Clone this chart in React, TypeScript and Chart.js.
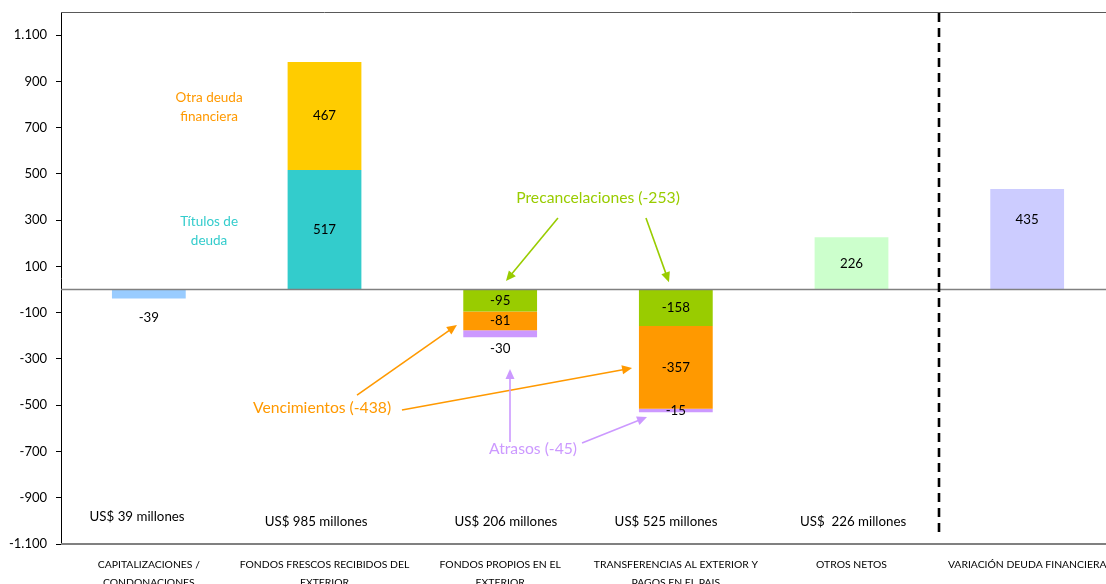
import React, { useEffect, useRef } from "react";
import { Chart, registerables } from "chart.js";
Chart.register(...registerables);

const FONT = "Lato, 'Open Sans', sans-serif";

const CATEGORIES: (string | string[])[] = [
  ["CAPITALIZACIONES /", "CONDONACIONES"],
  ["FONDOS FRESCOS RECIBIDOS DEL", "EXTERIOR"],
  ["FONDOS PROPIOS EN EL", "EXTERIOR"],
  ["TRANSFERENCIAS AL EXTERIOR Y", "PAGOS EN EL PAIS"],
  "OTROS NETOS",
  "VARIACIÓN DEUDA FINANCIERA",
];

const SINGLE_BARS = [-39, null, null, null, 226, 435];
const TITULOS = [null, 517, null, null, null, null];
const OTRA_DEUDA = [null, 467, null, null, null, null];
const PRECANCELACIONES = [null, null, -95, -158, null, null];
const VENCIMIENTOS = [null, null, -81, -357, null, null];
const ATRASOS = [null, null, -30, -15, null, null];

const Y_TICKS = [1100, 900, 700, 500, 300, 100, -100, -300, -500, -700, -900, -1100];

const TOTAL_LABELS = [
  "US$ 39 millones",
  "US$ 985 millones",
  "US$ 206 millones",
  "US$ 525 millones",
  "US$  226 millones",
];

const ORANGE = "#FF9900";
const GREEN = "#99CC00";
const PURPLE = "#CC99FF";
const TEAL = "#33CCCC";
const YELLOW = "#FFCC00";

const SINGLE_COLORS = ["#99CCFF", "#fff", "#fff", "#fff", "#CCFFCC", "#CCCCFF"];

// annotation placements (category index, value)
const TOTAL_POS: [number, number][] = [
  [-0.067, -983],
  [0.952, -1005],
  [2.033, -1005],
  [2.944, -1005],
  [4.009, -1005],
];

const NOTES = [
  { lines: ["Otra deuda", "financiera"], x: 0.343, y: 790, color: ORANGE, size: 13.5 },
  { lines: ["Títulos de", "deuda"], x: 0.343, y: 251, color: TEAL, size: 13.5 },
  { lines: ["Precancelaciones (-253)"], x: 2.557, y: 395, color: GREEN, size: 15.7 },
  { lines: ["Vencimientos (-438)"], x: 0.986, y: -512, color: ORANGE, size: 15.7 },
  { lines: ["Atrasos (-45)"], x: 2.187, y: -689, color: PURPLE, size: 15.7 },
];

const ARROWS = [
  { from: [2.329, 309], to: [2.033, 37], color: GREEN },
  { from: [2.83, 309], to: [2.961, 32], color: GREEN },
  { from: [1.185, -456], to: [1.754, -153], color: ORANGE },
  { from: [1.441, -521], to: [2.751, -339], color: ORANGE },
  { from: [2.056, -659], to: [2.056, -343], color: PURPLE },
  { from: [2.466, -663], to: [2.836, -551], color: PURPLE },
];

function fmt(v: number) {
  const s = Math.abs(v).toString().replace(/\B(?=(\d{3})+(?!\d))/g, ".");
  return (v < 0 ? "-" : "") + s;
}

const overlayPlugin = {
  id: "overlay",
  afterDatasetsDraw(chart: any) {
    const { ctx, chartArea, scales } = chart;
    const xs = scales.x;
    const ys = scales.y;
    const X = (i: number) => xs.getPixelForValue(i);
    const Y = (v: number) => ys.getPixelForValue(v);
    ctx.save();

    // zero line
    ctx.strokeStyle = "#808080";
    ctx.lineWidth = 1.6;
    ctx.beginPath();
    ctx.moveTo(chartArea.left, Y(0));
    ctx.lineTo(chartArea.right, Y(0));
    ctx.stroke();

    // frame top & bottom
    ctx.strokeStyle = "#595959";
    ctx.lineWidth = 1;
    ctx.beginPath();
    ctx.moveTo(chartArea.left, chartArea.top + 0.5);
    ctx.lineTo(chartArea.right, chartArea.top + 0.5);
    ctx.stroke();
    ctx.strokeStyle = "#808080";
    ctx.lineWidth = 2;
    ctx.beginPath();
    ctx.moveTo(chartArea.left, chartArea.bottom);
    ctx.lineTo(chartArea.right, chartArea.bottom);
    ctx.stroke();

    // dashed separator
    ctx.strokeStyle = "#000";
    ctx.lineWidth = 2.6;
    ctx.setLineDash([9, 6]);
    ctx.beginPath();
    const dx = Math.round(X(4.5));
    ctx.moveTo(dx, chartArea.top + 1);
    ctx.lineTo(dx, chartArea.bottom - 7);
    ctx.stroke();
    ctx.setLineDash([]);

    // value labels
    ctx.fillStyle = "#000";
    ctx.font = `13.3px ${FONT}`;
    ctx.textAlign = "center";
    ctx.textBaseline = "middle";
    chart.data.datasets.forEach((ds: any, di: number) => {
      const meta = chart.getDatasetMeta(di);
      ds.data.forEach((v: number | null, i: number) => {
        if (v === null || v === undefined) return;
        const el = meta.data[i];
        const top = Math.min(el.y, el.base);
        const bot = Math.max(el.y, el.base);
        let cy = (top + bot) / 2;
        if (di === 0 && i === 0) cy = bot + 19;
        else if (di === 5 && i === 2) cy = bot + 11.5;
        else if (di === 0 && i === 5) cy = top + (bot - top) * 0.31;
        ctx.fillText(fmt(v), el.x, cy);
      });
    });

    // totals at bottom
    ctx.font = `13.3px ${FONT}`;
    TOTAL_LABELS.forEach((t, i) => {
      ctx.fillText(t, X(TOTAL_POS[i][0]), Y(TOTAL_POS[i][1]));
    });

    // notes
    NOTES.forEach((n) => {
      ctx.fillStyle = n.color;
      ctx.font = `${n.size}px ${FONT}`;
      const lh = 19;
      const cx = X(n.x);
      const cy = Y(n.y);
      n.lines.forEach((l, k) => {
        ctx.fillText(l, cx, cy + (k - (n.lines.length - 1) / 2) * lh);
      });
    });

    // arrows
    ARROWS.forEach((a) => {
      const x1 = X(a.from[0]);
      const y1 = Y(a.from[1]);
      const x2 = X(a.to[0]);
      const y2 = Y(a.to[1]);
      const ang = Math.atan2(y2 - y1, x2 - x1);
      const hl = 10;
      const hw = 4.5;
      ctx.strokeStyle = a.color;
      ctx.fillStyle = a.color;
      ctx.lineWidth = 1.6;
      ctx.beginPath();
      ctx.moveTo(x1, y1);
      ctx.lineTo(x2 - Math.cos(ang) * hl * 0.8, y2 - Math.sin(ang) * hl * 0.8);
      ctx.stroke();
      ctx.beginPath();
      ctx.moveTo(x2, y2);
      ctx.lineTo(
        x2 - Math.cos(ang) * hl + Math.sin(ang) * hw,
        y2 - Math.sin(ang) * hl - Math.cos(ang) * hw
      );
      ctx.lineTo(
        x2 - Math.cos(ang) * hl - Math.sin(ang) * hw,
        y2 - Math.sin(ang) * hl + Math.cos(ang) * hw
      );
      ctx.closePath();
      ctx.fill();
    });

    ctx.restore();
  },
};

export default function App() {
  const ref = useRef<HTMLCanvasElement>(null);
  useEffect(() => {
    Chart.defaults.font.family = FONT;
    const bar = { categoryPercentage: 1, barPercentage: 0.42, borderWidth: 0 };
    const chart = new Chart(ref.current!, {
      type: "bar",
      data: {
        labels: CATEGORIES,
        datasets: [
          { label: "Total", data: SINGLE_BARS, backgroundColor: SINGLE_COLORS, ...bar },
          { label: "Títulos de deuda", data: TITULOS, backgroundColor: TEAL, ...bar },
          { label: "Otra deuda financiera", data: OTRA_DEUDA, backgroundColor: YELLOW, ...bar },
          { label: "Precancelaciones", data: PRECANCELACIONES, backgroundColor: GREEN, ...bar },
          { label: "Vencimientos", data: VENCIMIENTOS, backgroundColor: ORANGE, ...bar },
          { label: "Atrasos", data: ATRASOS, backgroundColor: PURPLE, ...bar },
        ] as any,
      },
      options: {
        responsive: false,
        animation: false,
        devicePixelRatio: 1,
        layout: { padding: { top: 12, right: 15, left: 0, bottom: 0 } },
        plugins: { legend: { display: false }, tooltip: { enabled: false } },
        scales: {
          x: {
            stacked: true,
            grid: { display: false, drawTicks: false },
            border: { display: false },
            afterFit: (s: any) => {
              s.height = 56;
              s.paddingLeft = 0;
              s.paddingRight = 0;
            },
            ticks: {
              maxRotation: 0,
              minRotation: 0,
              autoSkip: false,
              padding: 12,
              color: "#000",
              font: { size: 10.4, lineHeight: 1.68, family: FONT },
            },
          },
          y: {
            stacked: true,
            min: -1100,
            max: 1200,
            afterBuildTicks: (s: any) => {
              s.ticks = Y_TICKS.map((v) => ({ value: v }));
            },
            afterFit: (s: any) => {
              s.width = 61;
              s.paddingTop = 0;
              s.paddingBottom = 0;
            },
            grid: { drawOnChartArea: false, drawTicks: true, tickLength: 5, color: "#000" },
            border: { display: true, color: "#000", width: 1 },
            ticks: {
              padding: 9,
              color: "#000",
              font: { size: 13, family: FONT },
              callback: (v: any) => fmt(Number(v)),
            },
          },
        },
      } as any,
      plugins: [overlayPlugin],
    });
    return () => chart.destroy();
  }, []);
  return (
    <div
      style={{
        position: "fixed",
        left: 0,
        top: 0,
        width: 1106,
        height: 584,
        overflow: "hidden",
        background: "#fff",
      }}
    >
      <canvas ref={ref} width={1130} height={600} style={{ display: "block" }} />
    </div>
  );
}
